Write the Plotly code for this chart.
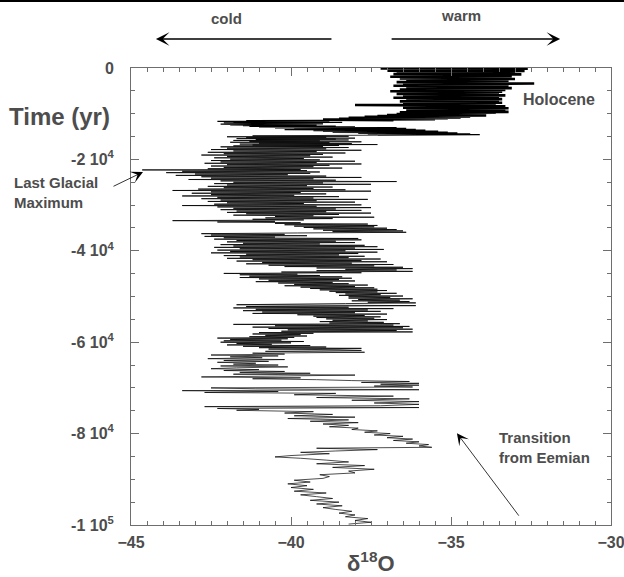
import plotly.graph_objects as go

# Ice-core delta-18O record, ages in kyr BP
age_holocene = [
    0.00, 0.08, 0.16, 0.25, 0.33, 0.42, 0.50, 0.58, 0.67, 0.75, 0.84, 0.92,
    1.00, 1.10, 1.20, 1.30, 1.40, 1.50, 1.60, 1.70, 1.80, 1.90, 2.00, 2.10,
    2.20, 2.30, 2.40, 2.50, 2.60, 2.70, 2.80, 2.90, 3.00, 3.10, 3.20, 3.30,
    3.40, 3.50, 3.60, 3.70, 3.80, 3.90, 4.00, 4.10, 4.20, 4.30, 4.40, 4.50,
    4.60, 4.70, 4.80, 4.90, 5.00, 5.10, 5.20, 5.30, 5.40, 5.50, 5.60, 5.70,
    5.80, 5.90, 6.00, 6.10, 6.20, 6.30, 6.40, 6.50, 6.60, 6.70, 6.80, 6.90,
    7.00, 7.10, 7.20, 7.30, 7.40, 7.50, 7.60, 7.70, 7.80, 7.90, 8.00, 8.10,
    8.20, 8.30, 8.40, 8.50, 8.60, 8.70, 8.80, 8.90, 9.00, 9.10, 9.20, 9.30,
    9.40, 9.50, 9.60, 9.70, 9.80, 9.90, 10.00, 10.10, 10.20, 10.30, 10.40,
    10.50, 10.60, 10.70, 10.80, 10.90, 11.00, 11.10, 11.20, 11.30, 11.40,
]
d18o_holocene = [
    -34.0, -37.2, -32.6, -37.0, -32.9, -36.6, -33.2, -37.0, -32.7, -36.3, -33.4, -36.7,
    -33.0, -36.4, -33.3, -36.8, -32.8, -36.2, -33.5, -36.5, -33.1, -36.9, -33.2, -36.3,
    -33.5, -36.6, -33.0, -36.1, -33.6, -36.4, -33.2, -36.2, -33.4, -36.7, -33.3, -36.0,
    -32.4, -36.5, -33.5, -36.3, -33.2, -36.8, -33.6, -36.1, -33.4, -36.4, -33.1, -36.2,
    -33.7, -36.6, -33.3, -36.3, -33.6, -36.9, -33.4, -36.1, -33.8, -36.4, -33.5, -36.7,
    -33.7, -36.2, -33.3, -36.5, -33.8, -36.3, -33.5, -36.8, -33.9, -36.1, -33.4, -36.4,
    -33.7, -36.3, -33.5, -36.6, -33.8, -36.2, -33.4, -36.5, -33.6, -36.3, -34.0, -38.0,
    -35.6, -36.4, -33.3, -36.2, -33.6, -36.5, -33.2, -36.1, -33.5, -36.4, -33.3, -36.2,
    -33.7, -36.3, -33.2, -36.6, -33.6, -36.3, -33.9, -36.7, -34.1, -37.0, -33.9,
    -37.3, -34.4, -37.7, -34.7, -38.2, -35.1, -38.5, -35.5, -39.0, -36.8,
]

age_deglacial = [
    11.50, 11.58, 11.66, 11.74, 11.82, 11.90, 11.98, 12.06, 12.14, 12.22, 12.30,
    12.38, 12.46, 12.54, 12.62, 12.70, 12.78, 12.86, 12.94, 13.02, 13.10, 13.20,
    13.30, 13.40, 13.50, 13.60, 13.70, 13.80, 13.90, 14.00, 14.10, 14.20, 14.30,
    14.40, 14.50, 14.60, 14.70,
]
d18o_deglacial = [
    -41.4, -38.8, -42.3, -39.3, -41.8, -38.4, -42.1, -39.5, -41.6, -39.0, -42.2,
    -39.7, -41.9, -39.2, -41.5, -38.6, -41.3, -38.0, -41.0, -36.7, -40.5, -36.4,
    -39.9, -36.1, -40.2, -35.8, -39.3, -35.4, -39.0, -35.1, -38.7, -34.8, -37.9,
    -34.4, -37.6, -34.1, -37.3,
]

age_lgm = [
    14.85, 14.95, 15.05, 15.15, 15.25, 15.35, 15.45, 15.55, 15.65, 15.75, 15.85,
    15.95, 16.05, 16.15, 16.25, 16.35, 16.45, 16.55, 16.65, 16.75, 16.85, 16.95,
    17.05, 17.15, 17.25, 17.40, 17.55, 17.70, 17.85, 18.00, 18.15, 18.30, 18.45,
    18.60, 18.75, 18.90, 19.05, 19.20, 19.35, 19.50, 19.65, 19.80, 19.95, 20.10,
    20.25, 20.40, 20.55, 20.70, 20.85, 21.00, 21.15, 21.30, 21.45, 21.60, 21.75,
    21.90, 22.05, 22.20, 22.30, 22.45, 22.60, 22.75, 22.90, 23.05, 23.20, 23.35,
    23.50, 23.65, 23.80, 23.95, 24.10, 24.25, 24.40, 24.55, 24.70, 24.85, 25.00,
    25.15, 25.30, 25.45, 25.60, 25.75, 25.90, 26.05, 26.20, 26.35, 26.50, 26.65,
    26.80, 26.95, 27.10, 27.25, 27.40, 27.55, 27.70, 27.85, 28.00, 28.15, 28.30,
    28.45, 28.60, 28.75, 28.90, 29.05, 29.20, 29.35, 29.50, 29.65, 29.80, 29.95,
]
d18o_lgm = [
    -41.2, -38.2, -42.0, -38.9, -41.4, -38.0, -41.7, -38.6, -41.1, -38.2, -41.8,
    -39.1, -41.3, -37.8, -41.9, -38.8, -41.0, -38.1, -41.6, -37.3, -41.2, -38.5,
    -41.8, -39.0, -42.2, -38.2, -42.0, -38.9, -42.5, -37.8, -41.8, -39.2, -42.6,
    -38.3, -42.1, -39.0, -42.8, -39.4, -42.0, -38.7, -42.4, -39.6, -41.9, -39.1,
    -42.5, -38.0, -42.2, -39.2, -42.7, -37.8, -42.0, -38.8, -42.5, -39.3, -42.1,
    -38.4, -42.6, -39.7, -44.65, -39.5, -43.4, -39.1, -43.9, -39.4, -43.0, -40.1,
    -43.6, -38.9, -42.8, -37.8, -42.5, -39.3, -43.2, -38.6, -42.2, -36.7, -41.8,
    -39.0, -42.4, -37.5, -42.0, -39.5, -42.6, -38.7, -42.1, -39.3, -42.9, -38.3,
    -43.7, -37.5, -42.5, -39.7, -43.1, -38.9, -42.5, -39.9, -43.4, -38.5, -42.3,
    -39.3, -42.8, -37.6, -42.2, -39.2, -42.6, -38.0, -42.0, -39.6, -42.4, -37.8,
]

age_stadials = [
    30.10, 30.25, 30.40, 30.55, 30.70, 30.85, 31.00, 31.15, 31.30, 31.45, 31.60,
    31.75, 31.90, 32.05, 32.20, 32.35, 32.50, 32.65, 32.80, 32.95, 33.10, 33.25,
    33.40, 33.55, 33.70, 33.85, 34.00, 34.15, 34.30, 34.45, 34.60, 34.75, 34.90,
    35.05, 35.20, 35.35, 35.50, 35.65, 35.80, 35.95, 36.10, 36.25, 36.40, 36.55,
    36.70, 36.85, 37.00, 37.15, 37.30, 37.45, 37.60, 37.75, 37.90, 38.05, 38.20,
    38.35, 38.50, 38.65, 38.80, 38.95, 39.10, 39.25, 39.40, 39.55, 39.70, 39.85,
    40.00, 40.15, 40.30, 40.45, 40.60, 40.75, 40.90, 41.05, 41.20, 41.35, 41.50,
    41.65, 41.80, 41.95, 42.10, 42.25, 42.40, 42.55, 42.70, 42.85, 43.00, 43.15,
    43.30, 43.45, 43.60, 43.75, 43.90, 44.05, 44.20, 44.35, 44.50, 44.65, 44.80,
    44.95, 45.10, 45.25, 45.40, 45.55, 45.70, 45.85, 46.00, 46.15, 46.30, 46.45,
    46.60, 46.75, 46.90, 47.05, 47.20, 47.35, 47.50, 47.65, 47.80, 47.95, 48.10,
    48.25, 48.40, 48.55, 48.70, 48.85, 49.00, 49.15, 49.30, 49.45, 49.60, 49.75,
    49.90, 50.05, 50.20, 50.35, 50.50, 50.65, 50.80, 50.95, 51.10, 51.25, 51.40,
    51.55, 51.80, 52.00, 52.20, 52.35, 52.50, 52.65, 52.80, 52.95, 53.10, 53.25,
    53.40, 53.55, 53.70, 53.85, 54.00, 54.15, 54.30, 54.45, 54.60, 54.75, 54.90,
    55.05, 55.20, 55.35, 55.50, 55.65, 55.80, 55.95, 56.10, 56.25, 56.40, 56.55,
    56.70, 56.85, 57.00, 57.15, 57.30, 57.45, 57.60, 57.75, 57.90, 58.05, 58.20,
    58.35, 58.50, 58.65, 58.80, 58.95, 59.10, 59.25, 59.40, 59.55, 59.70, 59.85,
    60.00, 60.15, 60.30, 60.45, 60.60, 60.75, 60.90, 61.05, 61.20, 61.35, 61.50,
    61.65, 61.80,
]
d18o_stadials = [
    -43.4, -39.2, -42.3, -37.5, -41.8, -38.6, -42.2, -37.8, -41.7, -38.9, -42.0,
    -37.5, -41.4, -38.5, -41.8, -39.3, -40.5, -37.4, -40.8, -38.7, -41.2, -39.6,
    -43.7, -40.5, -42.3, -39.7, -40.5, -37.6, -40.2, -37.3, -39.9, -37.4, -39.6,
    -37.0, -39.3, -36.7, -39.0, -36.5, -38.7, -36.4, -39.8, -42.8, -40.2, -42.5,
    -39.5, -42.7, -40.5, -42.1, -37.9, -42.4, -37.8, -41.7, -38.6, -42.0, -38.0,
    -41.5, -39.1, -42.2, -37.7, -41.8, -37.3, -42.4, -38.0, -41.6, -37.1, -42.3,
    -38.3, -41.9, -37.3, -42.5, -37.9, -41.4, -38.5, -42.1, -37.7, -41.6, -38.2,
    -42.0, -37.2, -41.2, -37.8, -41.7, -37.0, -40.9, -38.1, -41.4, -36.8, -40.7,
    -37.4, -40.2, -36.5, -39.2, -36.2, -38.3, -36.7, -39.2, -36.2, -40.3, -37.8,
    -42.1, -39.8, -41.6, -39.1, -41.3, -38.4, -41.6, -38.1, -41.0, -38.5, -40.7,
    -38.0, -41.1, -38.7, -40.4, -38.2, -39.9, -37.6, -40.2, -38.0, -39.7, -37.4,
    -39.4, -37.3, -39.1, -37.0, -38.8, -37.3, -38.6, -36.7, -38.3, -37.2, -38.5,
    -36.5, -38.2, -36.9, -38.2, -36.2, -37.9, -36.6, -38.1, -36.3, -37.6, -36.1,
    -38.3, -41.7, -36.1, -41.4, -38.2, -41.8, -36.8, -41.1, -37.6, -41.5, -37.2,
    -40.9, -38.0, -41.2, -37.0, -39.8, -37.7, -39.3, -37.2, -39.2, -37.4, -38.9,
    -37.0, -38.7, -37.6, -39.1, -37.1, -38.8, -36.6, -41.8, -36.8, -40.5, -36.3,
    -41.2, -36.5, -40.7, -36.2, -40.1, -36.7, -40.3, -36.2, -41.0, -39.3, -41.2,
    -39.7, -40.8, -39.5, -41.3, -39.9, -42.3, -40.1, -41.9, -40.3, -42.1, -39.6,
    -42.2, -40.0, -41.7, -40.6, -42.0, -39.4, -41.5, -38.9, -41.0, -37.8, -40.7,
    -38.5, -37.8,
]

age_early = [
    62.00, 62.20, 62.40, 62.60, 62.80, 63.00, 63.20, 63.40, 63.60, 63.80, 64.00,
    64.20, 64.40, 64.60, 64.80, 65.00, 65.20, 65.40, 65.60, 65.80, 66.00, 66.20,
    66.40, 66.60, 66.80, 67.00, 67.20, 67.40, 67.60, 67.80, 68.00, 68.20, 68.40,
    68.60, 68.80, 69.00, 69.20, 69.40, 69.60, 69.80, 70.00, 70.20, 70.40, 70.60,
    70.80, 71.00, 71.20, 71.50, 71.80, 72.10, 72.40, 72.70, 73.00, 73.30, 73.60,
    73.90, 74.10, 74.30, 74.50, 74.70, 74.90, 75.20, 75.50, 75.80, 76.10, 76.40,
    76.70, 77.00, 77.30, 77.60, 77.90, 78.20, 78.50, 78.80, 79.10, 79.40, 79.70,
    80.00, 80.30, 80.60, 80.90, 81.20, 81.50, 81.80, 82.10, 82.40, 82.70, 83.00,
    83.20, 83.50, 83.80, 84.10, 84.40, 84.80, 85.10, 85.40, 85.80, 86.20, 86.60,
    87.00, 87.40, 87.80, 88.20, 88.60, 89.00, 89.40, 89.80, 90.20, 90.60, 91.00,
    91.40, 91.80, 92.20, 92.60, 93.00, 93.40, 93.80, 94.20, 94.60, 95.00, 95.40,
    95.80, 96.20, 96.60, 97.00, 97.40, 97.80, 98.20, 98.60, 99.00, 99.40, 99.80,
]
d18o_early = [
    -40.8, -37.7, -41.2, -40.2, -42.5, -40.4, -41.9, -40.9, -42.6, -40.2, -42.1,
    -40.7, -42.3, -41.1, -41.8, -40.4, -42.2, -40.1, -41.7, -42.5, -41.0, -42.1,
    -40.2, -41.6, -39.4, -41.8, -38.0, -40.4, -42.8, -39.7, -41.2, -39.2, -38.1,
    -36.3, -37.8, -36.0, -37.2, -36.0, -37.4, -36.2, -42.5, -41.1, -36.0, -43.4,
    -40.4, -42.7, -38.6, -39.9, -36.8, -39.2, -36.3, -38.1, -36.0, -37.4, -36.0,
    -37.2, -42.7, -36.0, -42.3, -41.0, -41.7, -39.3, -40.2, -38.7, -39.9, -38.0,
    -40.1, -38.2, -39.4, -37.9, -39.0, -38.2, -38.8, -37.9, -38.1, -37.3, -37.7,
    -36.9, -37.4, -36.5, -37.0, -36.2, -36.8, -36.0, -36.4, -35.7, -36.0, -35.6,
    -39.2, -37.3, -38.6, -39.7, -38.8, -40.0, -40.5, -39.7, -38.9, -38.2, -39.2,
    -37.7, -38.7, -37.4, -38.2, -38.0, -39.1, -38.8, -39.0, -39.9, -39.4, -40.1,
    -39.5, -40.0, -39.3, -39.9, -38.9, -39.7, -39.2, -38.7, -39.4, -38.5, -39.2,
    -38.4, -39.0, -38.6, -38.1, -38.5, -38.0, -38.3, -37.6, -38.0, -37.5, -38.2,
]

y_tickvals = [0, -20000, -40000, -60000, -80000, -100000]
y_ticktext = ["0", "-2 10<sup>4</sup>", "-4 10<sup>4</sup>", "-6 10<sup>4</sup>",
              "-8 10<sup>4</sup>", "-1 10<sup>5</sup>"]

text_color = "#4d4d4d"
axis_color = "#6e6e6e"
font_family = "Liberation Sans, Arial, sans-serif"

segments = [
    (age_holocene, d18o_holocene, 2.6),
    (age_deglacial, d18o_deglacial, 1.2),
    (age_lgm, d18o_lgm, 0.8),
    (age_stadials, d18o_stadials, 0.8),
    (age_early, d18o_early, 0.7),
]

fig = go.Figure()
prev = None
for ages, vals, width in segments:
    a = list(ages)
    v = list(vals)
    if prev is not None:
        # join onto the end of the previous period
        a = [prev[0]] + a
        v = [prev[1]] + v
    fig.add_trace(go.Scatter(
        x=v,
        y=[-t * 1000 for t in a],
        mode="lines",
        line=dict(color="black", width=width, simplify=False),
        showlegend=False,
        hoverinfo="skip",
    ))
    prev = (ages[-1], vals[-1])

tickfont = dict(family=font_family, size=16, color=text_color, weight="bold")

fig.update_xaxes(
    range=[-45, -30],
    tick0=-45, dtick=5,
    ticks="inside", ticklen=8, tickwidth=1, tickcolor=axis_color,
    showline=True, linecolor=axis_color, linewidth=1, mirror="ticks",
    showgrid=False, zeroline=False,
    minor=dict(dtick=0.5, ticks="inside", ticklen=4, tickcolor=axis_color, showgrid=False),
    tickfont=tickfont, ticklabelstandoff=3, ticklabeloverflow="allow",
)
fig.update_yaxes(
    range=[-100000, 0],
    tickvals=y_tickvals, ticktext=y_ticktext,
    ticks="inside", ticklen=8, tickwidth=1, tickcolor=axis_color,
    showline=True, linecolor=axis_color, linewidth=1, mirror="ticks",
    showgrid=False, zeroline=False,
    minor=dict(dtick=5000, ticks="inside", ticklen=4, tickcolor=axis_color, showgrid=False),
    tickfont=tickfont, ticklabelstandoff=13, ticklabeloverflow="allow",
)

bold = dict(family=font_family, color=text_color, weight="bold")

annotations = [
    dict(text="Time (yr)", x=-0.15, y=0.893, font=dict(size=24, **bold)),
    dict(text="δ<sup>18</sup>O", x=0.5, y=-0.081, font=dict(size=22, **bold)),
    dict(text="cold", x=0.198, y=1.109, font=dict(size=15, **bold)),
    dict(text="warm", x=0.6875, y=1.114, font=dict(size=15, **bold)),
    dict(text="Holocene", x=0.892, y=0.932, font=dict(size=16, **bold)),
    dict(text="Last Glacial<br>Maximum", x=-0.248, y=0.7276, xanchor="left", align="left",
         font=dict(size=15, **bold)),
    dict(text="Transition<br>from Eemian", x=0.7625, y=0.1696, xanchor="left", align="left",
         font=dict(size=15, **bold)),
]
for a in annotations:
    a.setdefault("xanchor", "center")
    a["yanchor"] = "middle"
    a["showarrow"] = False

arrows = [
    dict(x=0.052, y=1.0635, ax=177, ay=0, arrowsize=1.5, arrowwidth=1.5),
    dict(x=0.894, y=1.0635, ax=-170, ay=0, arrowsize=1.5, arrowwidth=1.5),
    dict(x=0.025, y=0.7724, ax=-31, ay=15, arrowsize=2.5, arrowwidth=0.8),
    dict(x=0.679, y=0.201, ax=63, ay=84, arrowsize=2.5, arrowwidth=0.8),
]
for a in arrows:
    a.update(text="", showarrow=True, arrowhead=3, arrowcolor="black")

all_notes = annotations + arrows
for a in all_notes:
    a["xref"] = "paper"
    a["yref"] = "paper"

fig.update_layout(
    width=624, height=577,
    margin=dict(l=131, r=13, t=68, b=52, autoexpand=False),
    plot_bgcolor="white", paper_bgcolor="white",
    annotations=all_notes,
    shapes=[dict(type="line", xref="paper", yref="paper", x0=-0.3, x1=1.1,
                 y0=1.1466, y1=1.1466, line=dict(color="black", width=2))],
)

fig.write_html("out.html", config={"displayModeBar": False},
               post_script="document.body.style.margin='0';")
